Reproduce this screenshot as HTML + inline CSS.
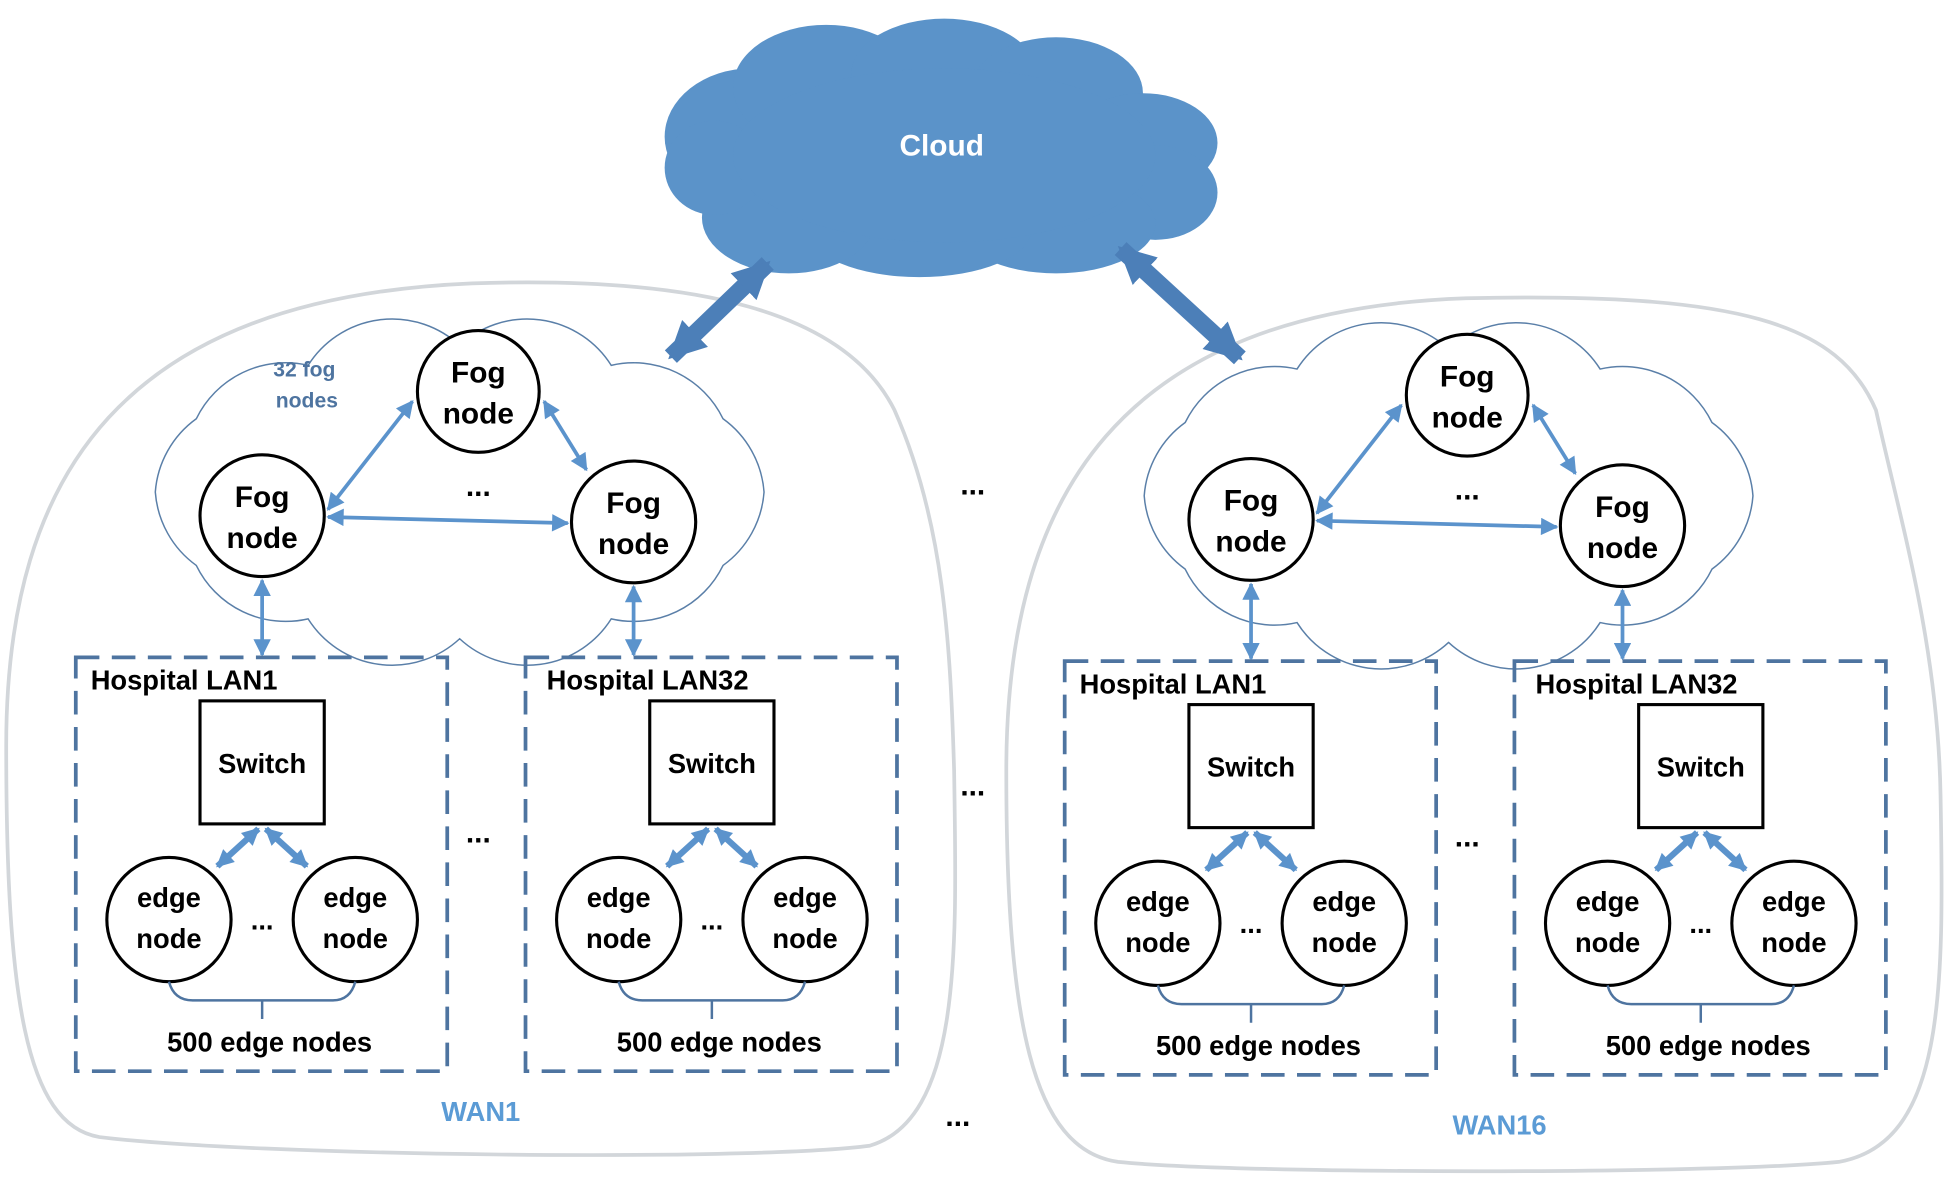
<!DOCTYPE html>
<html><head><meta charset="utf-8"><style>html,body{margin:0;padding:0;background:#fff}svg{display:block}</style></head>
<body>
<svg width="1948" height="1188" viewBox="0 0 1568 956" preserveAspectRatio="none" xmlns="http://www.w3.org/2000/svg" font-family="'Liberation Sans', sans-serif" font-weight="bold">
<defs>
<marker id="a" viewBox="0 0 10 10" refX="9" refY="5" markerWidth="16" markerHeight="14" markerUnits="userSpaceOnUse" orient="auto-start-reverse"><path d="M0,0 L10,5 L0,10 z" fill="#5b93cc"/></marker>
<marker id="b" viewBox="0 0 10 10" refX="9" refY="5" markerWidth="30" markerHeight="36" markerUnits="userSpaceOnUse" orient="auto-start-reverse"><path d="M0,0 L10,5 L0,10 z" fill="#4c7fb8"/></marker>
<path id="fc" d="M615,396 A80,80 0 0 1 582,455 A80,80 0 0 1 492,498 A80,80 0 0 1 370,514 A80,80 0 0 1 248,498 A80,80 0 0 1 158,455 A80,80 0 0 1 125,396 A80,80 0 0 1 158,337 A80,80 0 0 1 248,294 A80,80 0 0 1 370,278 A80,80 0 0 1 492,294 A80,80 0 0 1 582,337 A80,80 0 0 1 615,396 Z"/>
</defs>
<!-- WAN blobs -->
<path d="M5,600 C5,380 100,240 380,228 C560,222 680,250 720,330 C760,420 765,520 768,620 C770,760 775,900 700,922 C600,935 200,930 80,915 C20,905 5,800 5,600 Z" fill="none" stroke="#d2d6da" stroke-width="3"/>
<path d="M810,620 C810,400 900,250 1180,240 C1400,235 1480,260 1510,330 C1530,420 1560,520 1562,640 C1565,800 1565,920 1480,935 C1380,945 1000,945 900,935 C830,925 810,820 810,620 Z" fill="none" stroke="#d2d6da" stroke-width="3"/>
<!-- big cloud -->
<g fill="#5b93c9">
<ellipse cx="605" cy="110" rx="70" ry="55"/><ellipse cx="665" cy="70" rx="75" ry="50"/><ellipse cx="760" cy="60" rx="75" ry="45"/><ellipse cx="850" cy="75" rx="70" ry="45"/><ellipse cx="920" cy="115" rx="60" ry="40"/><ellipse cx="930" cy="155" rx="50" ry="38"/><ellipse cx="850" cy="180" rx="80" ry="40"/><ellipse cx="740" cy="185" rx="90" ry="38"/><ellipse cx="635" cy="175" rx="70" ry="45"/><ellipse cx="575" cy="135" rx="40" ry="38"/><ellipse cx="760" cy="125" rx="170" ry="70"/>
</g>
<text x="758" y="125" fill="#fff" font-size="24" text-anchor="middle">Cloud</text>
<line x1="540" y1="287" x2="618" y2="212" stroke="#4c7fb8" stroke-width="14" marker-start="url(#b)" marker-end="url(#b)"/>
<line x1="902" y1="200" x2="998" y2="288" stroke="#4c7fb8" stroke-width="14" marker-start="url(#b)" marker-end="url(#b)"/>
<g fill="#000" font-size="24" text-anchor="middle">
<text x="783" y="398">...</text><text x="783" y="640">...</text><text x="771" y="906">...</text>
</g>
<!-- WAN1 -->
<g>
<use href="#fc" fill="none" stroke="#5a7fa8" stroke-width="1.2"/>
<g fill="#fff" stroke="#000" stroke-width="2.5"><circle cx="385" cy="315" r="49"/><ellipse cx="211" cy="415" rx="50" ry="49"/><ellipse cx="510" cy="420" rx="50" ry="49"/></g>
<g stroke="#5b93cc" stroke-width="3" marker-start="url(#a)" marker-end="url(#a)">
<line x1="264" y1="410" x2="332" y2="323"/><line x1="438" y1="323" x2="472" y2="378"/><line x1="264" y1="416" x2="457" y2="421"/>
<line x1="211" y1="467" x2="211" y2="527"/><line x1="510" y1="472" x2="510" y2="527"/>
</g>
<g font-size="24" text-anchor="middle" fill="#000">
<text x="385" y="308">Fog</text><text x="385" y="341">node</text>
<text x="211" y="408">Fog</text><text x="211" y="441">node</text>
<text x="510" y="413">Fog</text><text x="510" y="446">node</text>
<text x="385" y="399">...</text>
</g>
<text x="245" y="303" font-size="17" fill="#4e74a0" text-anchor="middle">32 fog</text>
<text x="247" y="328" font-size="17" fill="#4e74a0" text-anchor="middle">nodes</text>
<text x="387" y="902" font-size="22" fill="#5b9bd5" text-anchor="middle">WAN1</text>
<text x="385" y="678" font-size="24" text-anchor="middle">...</text>
</g>
<g>
<rect x="61" y="529" width="299" height="333" fill="none" stroke="#4e74a0" stroke-width="3" stroke-dasharray="19,10"/>
<rect x="161" y="564" width="100" height="99" fill="#fff" stroke="#000" stroke-width="2.5"/>
<g fill="#fff" stroke="#000" stroke-width="2.5"><circle cx="136" cy="740" r="50"/><circle cx="286" cy="740" r="50"/></g>
<g stroke="#5b93cc" stroke-width="5" marker-start="url(#a)" marker-end="url(#a)"><line x1="208" y1="667" x2="175" y2="697"/><line x1="214" y1="667" x2="247" y2="697"/></g>
<path d="M136,790 Q140,805 155,805 L268,805 Q282,805 286,790 M211,805 L211,820" fill="none" stroke="#4e74a0" stroke-width="2"/>
</g>
<g font-size="22" fill="#000" text-anchor="middle">
<text x="73" y="555" text-anchor="start">Hospital LAN1</text><text x="211" y="622">Switch</text>
<text x="136" y="730">edge</text><text x="136" y="763">node</text><text x="286" y="730">edge</text><text x="286" y="763">node</text>
<text x="211" y="748">...</text><text x="217" y="846">500 edge nodes</text>
</g>
<g transform="translate(362,0)">
<rect x="61" y="529" width="299" height="333" fill="none" stroke="#4e74a0" stroke-width="3" stroke-dasharray="19,10"/>
<rect x="161" y="564" width="100" height="99" fill="#fff" stroke="#000" stroke-width="2.5"/>
<g fill="#fff" stroke="#000" stroke-width="2.5"><circle cx="136" cy="740" r="50"/><circle cx="286" cy="740" r="50"/></g>
<g stroke="#5b93cc" stroke-width="5" marker-start="url(#a)" marker-end="url(#a)"><line x1="208" y1="667" x2="175" y2="697"/><line x1="214" y1="667" x2="247" y2="697"/></g>
<path d="M136,790 Q140,805 155,805 L268,805 Q282,805 286,790 M211,805 L211,820" fill="none" stroke="#4e74a0" stroke-width="2"/>
<g font-size="22" fill="#000" text-anchor="middle">
<text x="78" y="555" text-anchor="start">Hospital LAN32</text><text x="211" y="622">Switch</text>
<text x="136" y="730">edge</text><text x="136" y="763">node</text><text x="286" y="730">edge</text><text x="286" y="763">node</text>
<text x="211" y="748">...</text><text x="217" y="846">500 edge nodes</text>
</g>
</g>
<!-- WAN16 -->
<g transform="translate(796,3)">
<use href="#fc" fill="none" stroke="#5a7fa8" stroke-width="1.2"/>
<g fill="#fff" stroke="#000" stroke-width="2.5"><circle cx="385" cy="315" r="49"/><ellipse cx="211" cy="415" rx="50" ry="49"/><ellipse cx="510" cy="420" rx="50" ry="49"/></g>
<g stroke="#5b93cc" stroke-width="3" marker-start="url(#a)" marker-end="url(#a)">
<line x1="264" y1="410" x2="332" y2="323"/><line x1="438" y1="323" x2="472" y2="378"/><line x1="264" y1="416" x2="457" y2="421"/>
<line x1="211" y1="467" x2="211" y2="527"/><line x1="510" y1="472" x2="510" y2="527"/>
</g>
<g font-size="24" text-anchor="middle" fill="#000">
<text x="385" y="308">Fog</text><text x="385" y="341">node</text>
<text x="211" y="408">Fog</text><text x="211" y="441">node</text>
<text x="510" y="413">Fog</text><text x="510" y="446">node</text>
<text x="385" y="399">...</text>
</g>
<text x="411" y="910" font-size="22" fill="#5b9bd5" text-anchor="middle">WAN16</text>
<text x="385" y="678" font-size="24" text-anchor="middle">...</text>
<g>
<rect x="61" y="529" width="299" height="333" fill="none" stroke="#4e74a0" stroke-width="3" stroke-dasharray="19,10"/>
<rect x="161" y="564" width="100" height="99" fill="#fff" stroke="#000" stroke-width="2.5"/>
<g fill="#fff" stroke="#000" stroke-width="2.5"><circle cx="136" cy="740" r="50"/><circle cx="286" cy="740" r="50"/></g>
<g stroke="#5b93cc" stroke-width="5" marker-start="url(#a)" marker-end="url(#a)"><line x1="208" y1="667" x2="175" y2="697"/><line x1="214" y1="667" x2="247" y2="697"/></g>
<path d="M136,790 Q140,805 155,805 L268,805 Q282,805 286,790 M211,805 L211,820" fill="none" stroke="#4e74a0" stroke-width="2"/>
<g font-size="22" fill="#000" text-anchor="middle">
<text x="73" y="555" text-anchor="start">Hospital LAN1</text><text x="211" y="622">Switch</text>
<text x="136" y="730">edge</text><text x="136" y="763">node</text><text x="286" y="730">edge</text><text x="286" y="763">node</text>
<text x="211" y="748">...</text><text x="217" y="846">500 edge nodes</text>
</g>
</g>
<g transform="translate(362,0)">
<rect x="61" y="529" width="299" height="333" fill="none" stroke="#4e74a0" stroke-width="3" stroke-dasharray="19,10"/>
<rect x="161" y="564" width="100" height="99" fill="#fff" stroke="#000" stroke-width="2.5"/>
<g fill="#fff" stroke="#000" stroke-width="2.5"><circle cx="136" cy="740" r="50"/><circle cx="286" cy="740" r="50"/></g>
<g stroke="#5b93cc" stroke-width="5" marker-start="url(#a)" marker-end="url(#a)"><line x1="208" y1="667" x2="175" y2="697"/><line x1="214" y1="667" x2="247" y2="697"/></g>
<path d="M136,790 Q140,805 155,805 L268,805 Q282,805 286,790 M211,805 L211,820" fill="none" stroke="#4e74a0" stroke-width="2"/>
<g font-size="22" fill="#000" text-anchor="middle">
<text x="78" y="555" text-anchor="start">Hospital LAN32</text><text x="211" y="622">Switch</text>
<text x="136" y="730">edge</text><text x="136" y="763">node</text><text x="286" y="730">edge</text><text x="286" y="763">node</text>
<text x="211" y="748">...</text><text x="217" y="846">500 edge nodes</text>
</g>
</g>
</g>
</svg>
</body></html>
